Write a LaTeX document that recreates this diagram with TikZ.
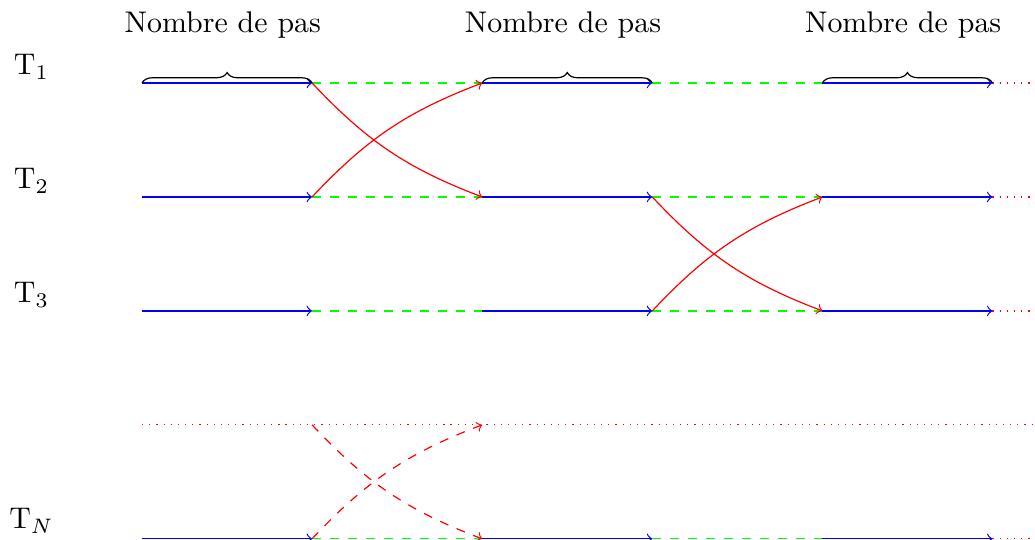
\documentclass[tikz,border=0pt]{standalone}
\usetikzlibrary{decorations.pathreplacing}

\begin{document}
\begin{tikzpicture}[
    run/.style={->, draw=blue},
    wait/.style={draw=green, dashed},
    swap/.style={->, draw=red},
    swapguess/.style={->, draw=red, dashed},
    more/.style={draw=red, dotted},
    stepbrace/.style={decorate, decoration={brace, amplitude=3.5pt}},
    steplabel/.style={inner sep=0pt},
]
\useasboundingbox (-1.67,0.976) rectangle (10.5,-5.365);

% ============ GRID POINTS ============
\foreach \r/\y in {1/0, 2/-1.34, 3/-2.68, 4/-4.02, 5/-5.36} {
    \foreach \c in {0,...,5} {\coordinate (p\r\c) at (2*\c, \y);}
    \coordinate (e\r) at (10.5, \y);
}

% ============ ROW LABELS ============
\node (t1) at (-1.3, 0.19)  {$\mathrm{T}_1$};
\node (t2) at (-1.3, -1.15) {$\mathrm{T}_2$};
\node (t3) at (-1.3, -2.49) {$\mathrm{T}_3$};
\node (tn) at (-1.3, -5.15) {$\mathrm{T}_N$};

% ============ TIME LINES ============
\foreach \r in {1,2,3,5} {
    \draw[run]  (p\r0) -- (p\r1);
    \draw[wait] (p\r1) -- (p\r2);
    \draw[run]  (p\r2) -- (p\r3);
    \draw[wait] (p\r3) -- (p\r4);
    \draw[run]  (p\r4) -- (p\r5);
    \draw[more] (p\r5) -- (e\r);
}
% unknown rows in between
\draw[more] (p40) -- (e4);

% ============ BRACES + TITLES ============
\draw[stepbrace] (p10) -- (p11);
\draw[stepbrace] (p12) -- (p13);
\draw[stepbrace] (p14) -- (p15);
\node (n1) at (0.95, 0.68) {Nombre de pas};
\node (n2) at (4.95, 0.68) {Nombre de pas};
\node (n3) at (8.95, 0.68) {Nombre de pas};

% ============ EXCHANGES ============
\draw[swap] (p11) to[bend right=13] (p22);
\draw[swap] (p21) to[bend left=13]  (p12);
\draw[swap] (p23) to[bend right=13] (p34);
\draw[swap] (p33) to[bend left=13]  (p24);
\draw[swapguess] (p41) to[bend right=13] (p52);
\draw[swapguess] (p51) to[bend left=13]  (p42);

\end{tikzpicture}
\end{document}
